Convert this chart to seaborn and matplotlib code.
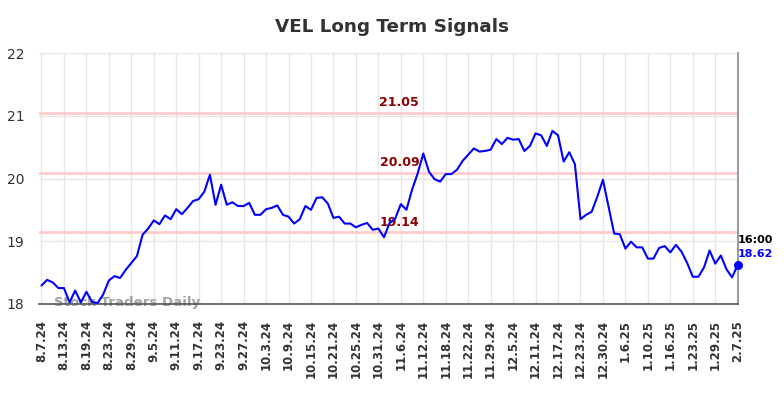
import numpy as np
import pandas as pd
import seaborn as sns
import matplotlib
matplotlib.use("Agg")
import matplotlib.pyplot as plt

sns.set_theme(style="white")

# closing prices, one per trading session
prices = [
    18.29, 18.38, 18.34, 18.25, 18.25, 18.02, 18.21, 18.02, 18.19, 18.03,
    18.01, 18.15, 18.37, 18.44, 18.41, 18.54, 18.65, 18.76, 19.10, 19.20,
    19.33, 19.27, 19.41, 19.35, 19.51, 19.43, 19.53, 19.64, 19.67, 19.79,
    20.06, 19.58, 19.90, 19.58, 19.62, 19.56, 19.56, 19.61, 19.42, 19.42,
    19.51, 19.53, 19.57, 19.42, 19.39, 19.28, 19.35, 19.56, 19.50, 19.69,
    19.70, 19.60, 19.37, 19.39, 19.28, 19.28, 19.22, 19.26, 19.29, 19.18,
    19.20, 19.06, 19.29, 19.36, 19.59, 19.50, 19.82, 20.08, 20.40, 20.11,
    19.99, 19.95, 20.07, 20.07, 20.14, 20.28, 20.38, 20.48, 20.43, 20.44,
    20.46, 20.63, 20.55, 20.65, 20.62, 20.63, 20.44, 20.52, 20.72, 20.69,
    20.52, 20.76, 20.69, 20.27, 20.42, 20.23, 19.35, 19.42, 19.47, 19.71,
    19.98, 19.55, 19.12, 19.11, 18.88, 18.99, 18.90, 18.90, 18.72, 18.72,
    18.89, 18.92, 18.82, 18.94, 18.83, 18.65, 18.43, 18.43, 18.58, 18.85,
    18.64, 18.77, 18.55, 18.42, 18.62,
]

tick_labels = [
    "8.7.24", "8.13.24", "8.19.24", "8.23.24", "8.29.24", "9.5.24", "9.11.24",
    "9.17.24", "9.23.24", "9.27.24", "10.3.24", "10.9.24", "10.15.24",
    "10.21.24", "10.25.24", "10.31.24", "11.6.24", "11.12.24", "11.18.24",
    "11.22.24", "11.29.24", "12.5.24", "12.11.24", "12.17.24", "12.23.24",
    "12.30.24", "1.6.25", "1.10.25", "1.16.25", "1.23.25", "1.29.25", "2.7.25",
]

signal_levels = [21.05, 20.09, 19.14]
last_time = "16:00"

df = pd.DataFrame({"idx": np.arange(len(prices)), "price": prices})

fig = plt.figure(figsize=(7.84, 3.98), dpi=100)
ax = fig.add_axes([0.0497, 0.237, 0.8916, 0.629])

# grid
for k in range(len(tick_labels)):
    ax.axvline(k * 4, color="#e6e6e6", lw=1, zorder=0)
for yv in [18, 19, 20, 21, 22]:
    ax.axhline(yv, color="#e6e6e6", lw=1, zorder=0)

# signal levels
n = len(prices) - 1
lbl_x = n * 0.514
for lvl in signal_levels:
    ax.axhline(lvl, color="#ffcccc", lw=2, zorder=1)
    ax.text(lbl_x, lvl + 0.06, f"{lvl:.2f}", color="#8b0000", fontsize=9,
            fontweight="bold", ha="center", va="bottom", zorder=3)

sns.lineplot(data=df, x="idx", y="price", color="#0000ff", lw=1.5, ax=ax, zorder=4)

last = prices[-1]
ax.scatter([n], [last], color="#0000ff", s=30, zorder=5, clip_on=False)
ax.text(n, last + 0.39, last_time, color="black", fontsize=8, fontweight="bold",
        ha="left", va="center")
ax.text(n, last + 0.18, f"{last:.2f}", color="#0000ff", fontsize=8,
        fontweight="bold", ha="left", va="center")

ax.text(2.2, 18.02, "Stock Traders Daily", color="#999999", fontsize=9.6,
        fontweight="bold", ha="left", va="center", alpha=0.9, zorder=2)

ax.set_xlim(-0.45, n + 0.05)
ax.set_ylim(18, 22)
ax.set_xticks([k * 4 for k in range(len(tick_labels))])
ax.set_xticklabels(tick_labels, rotation=90, fontsize=8.5, fontweight="bold",
                   color="#333333")
ax.set_yticks([18, 19, 20, 21, 22])
ax.set_yticklabels(["18", "19", "20", "21", "22"], fontsize=10, color="#333333")
ax.tick_params(axis="x", length=0, pad=11.5)
ax.tick_params(axis="y", length=0, pad=10.5)
ax.set_xlabel("")
ax.set_ylabel("")

for s in ["top", "left"]:
    ax.spines[s].set_visible(False)
ax.spines["bottom"].set_color("#555555")
ax.spines["bottom"].set_linewidth(1.2)
ax.spines["bottom"].set_zorder(3)
ax.spines["right"].set_color("#888888")
ax.spines["right"].set_linewidth(1.2)

fig.suptitle("VEL Long Term Signals", x=0.5, y=0.955, fontsize=13.2,
             fontweight="bold", color="#333333")

fig.savefig("out.png", dpi=100)
